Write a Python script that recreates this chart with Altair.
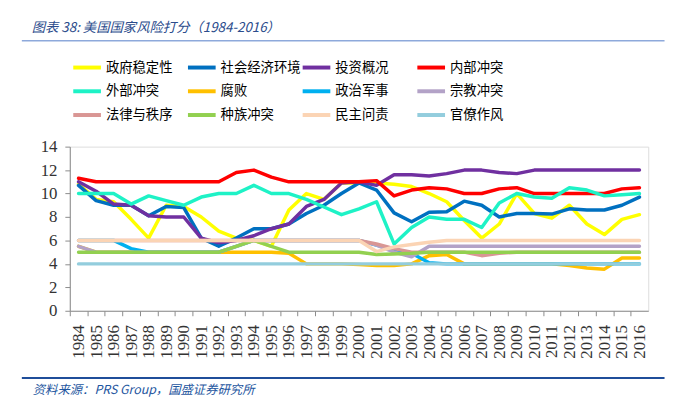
import altair as alt
import pandas as pd

years = [str(y) for y in range(1984, 2017)]

series_names = ["政府稳定性", "社会经济环境", "投资概况", "内部冲突",
                "外部冲突", "腐败", "政治军事", "宗教冲突",
                "法律与秩序", "种族冲突", "民主问责", "官僚作风"]
series_colors = ["#FFFF00", "#0070C0", "#7030A0", "#FF0000",
                 "#1EF2C6", "#FFC000", "#00B0F0", "#B3A2C7",
                 "#D99694", "#92D050", "#FBD4B4", "#93CDDD"]

gov_stability = [10.8, 9.5, 9.3, 7.8, 6.2, 9.0, 8.9, 8.0, 6.8, 6.2, 6.0, 5.5, 8.6,
                 10.0, 9.5, 10.9, 10.9, 10.9, 10.8, 10.6, 10.0, 9.3, 7.7, 6.2, 7.4,
                 10.0, 8.3, 7.9, 9.0, 7.4, 6.5, 7.8, 8.2]
socio_econ = [10.7, 9.4, 9.0, 9.0, 8.1, 8.9, 8.8, 6.2, 5.5, 6.2, 7.0, 7.0, 7.4,
              8.3, 9.0, 10.0, 10.9, 10.3, 8.35, 7.6, 8.4, 8.45, 9.35, 9.0, 8.0,
              8.3, 8.3, 8.25, 8.7, 8.6, 8.6, 9.0, 9.7]
investment = [11.0, 10.2, 9.1, 9.0, 8.1, 8.0, 8.0, 6.2, 5.8, 6.0, 6.4, 7.0, 7.4,
              8.9, 9.5, 10.9, 11.0, 10.7, 11.6, 11.6, 11.5, 11.7, 12.0, 12.0, 11.8,
              11.7, 12.0, 12.0, 12.0, 12.0, 12.0, 12.0, 12.0]
internal_conflict = [11.3, 11.0, 11.0, 11.0, 11.0, 11.0, 11.0, 11.0, 11.0, 11.8, 12.0, 11.4, 11.0,
                     11.0, 11.0, 11.0, 11.0, 11.1, 9.8, 10.3, 10.5, 10.4, 10.0, 10.0, 10.4,
                     10.5, 10.0, 10.0, 10.0, 10.0, 10.0, 10.4, 10.5]
external_conflict = [10.0, 10.0, 10.0, 9.1, 9.8, 9.4, 9.0, 9.7, 10.0, 10.0, 10.7, 10.0, 10.0,
                     9.5, 8.85, 8.2, 8.7, 9.3, 5.7, 7.1, 8.0, 7.8, 7.8, 7.1, 9.2,
                     10.0, 9.7, 9.6, 10.5, 10.3, 9.8, 9.9, 10.0]
corruption = [5.5, 5.0, 5.0, 5.0, 5.0, 5.0, 5.0, 5.0, 5.0, 5.0, 5.0, 5.0, 4.9,
              4.0, 4.0, 4.0, 3.95, 3.85, 3.85, 4.0, 4.7, 4.8, 4.0, 4.0, 4.0,
              4.0, 4.0, 4.0, 3.85, 3.65, 3.55, 4.5, 4.5]
military = [6.0, 6.0, 6.0, 5.3, 5.0, 5.0, 5.0, 5.0, 5.0, 5.5, 6.0, 6.0, 6.0,
            6.0, 6.0, 6.0, 6.0, 5.6, 5.2, 4.9, 4.1, 4.0, 4.0, 4.0, 4.0,
            4.0, 4.0, 4.0, 4.0, 4.0, 4.0, 4.0, 4.0]
religion = [5.5, 5.0, 5.0, 5.0, 5.0, 5.0, 5.0, 5.0, 5.0, 5.5, 6.0, 6.0, 6.0,
            6.0, 6.0, 6.0, 6.0, 5.6, 5.0, 4.6, 5.5, 5.5, 5.5, 5.5, 5.5,
            5.5, 5.5, 5.5, 5.5, 5.5, 5.5, 5.5, 5.5]
law_order = [6.0, 6.0, 6.0, 6.0, 6.0, 6.0, 6.0, 6.0, 6.0, 6.0, 6.0, 6.0, 6.0,
             6.0, 6.0, 6.0, 6.0, 5.7, 5.3, 5.0, 5.0, 5.0, 5.0, 4.7, 4.9,
             5.0, 5.0, 5.0, 5.0, 5.0, 5.0, 5.0, 5.0]
ethnic = [5.0, 5.0, 5.0, 5.0, 5.0, 5.0, 5.0, 5.0, 5.0, 5.5, 6.0, 5.5, 5.0,
          5.0, 5.0, 5.0, 5.0, 4.8, 4.85, 4.9, 5.0, 5.0, 5.0, 5.0, 5.0,
          5.0, 5.0, 5.0, 5.0, 5.0, 5.0, 5.0, 5.0]
democratic = [6.0, 6.0, 6.0, 6.0, 6.0, 6.0, 6.0, 6.0, 6.0, 6.0, 6.0, 6.0, 6.0,
              6.0, 6.0, 6.0, 6.0, 5.05, 5.45, 5.65, 5.85, 6.0, 6.0, 6.0, 6.0,
              6.0, 6.0, 6.0, 6.0, 6.0, 6.0, 6.0, 6.0]
bureaucracy = [4.0] * 33

all_series = [gov_stability, socio_econ, investment, internal_conflict,
              external_conflict, corruption, military, religion,
              law_order, ethnic, democratic, bureaucracy]

rows = []
for name, vals in zip(series_names, all_series):
    for yr, v in zip(years, vals):
        rows.append({"year": yr, "value": v, "series": name})
df = pd.DataFrame(rows)

W, H = 585, 166
step = W / len(years)

lines = alt.Chart(df).mark_line(strokeWidth=3.5, strokeJoin="round", strokeCap="round").encode(
    x=alt.X("year:O", sort=years,
            scale=alt.Scale(type="point", padding=0.5),
            axis=alt.Axis(title=None, labelAngle=-90, tickOffset=-step / 2, labelOffset=step / 2,
                          tickSize=5, labelPadding=9, domainColor="#8C8C8C", tickColor="#8C8C8C",
                          labelFont="Liberation Serif", labelFontSize=17, labelColor="#333333")),
    y=alt.Y("value:Q", scale=alt.Scale(domain=[0, 14], nice=False),
            axis=alt.Axis(title=None, values=list(range(0, 15, 2)), grid=False, tickSize=5,
                          labelPadding=8, domainColor="#8C8C8C", tickColor="#8C8C8C",
                          labelFont="Liberation Serif", labelFontSize=17, labelColor="#333333")),
    color=alt.Color("series:N", sort=series_names,
                    scale=alt.Scale(domain=series_names, range=series_colors),
                    legend=alt.Legend(title=None, orient="none", legendX=1.5, legendY=-96,
                                      direction="horizontal", columns=4, gridAlign="all",
                                      symbolType="stroke", symbolSize=784, symbolStrokeWidth=4,
                                      labelFont="Noto Sans CJK SC", labelFontSize=13.5,
                                      labelColor="#000000", labelOffset=3, columnPadding=-6.5,
                                      rowPadding=-0.5, padding=0, labelLimit=200)),
)

title_df = pd.DataFrame({"t": ["图表 38:  美国国家风险打分（1984-2016）"]})
title = alt.Chart(title_df).mark_text(align="left", baseline="middle", font="Noto Sans CJK SC",
                                      fontSize=13.5, fontStyle="italic", color="#2B4C8C").encode(
    text="t:N", x=alt.value(-38.5), y=alt.value(-120))

source_df = pd.DataFrame({"t": ["资料来源：PRS Group，国盛证券研究所"]})
source = alt.Chart(source_df).mark_text(align="left", baseline="middle", font="Noto Sans CJK SC",
                                        fontSize=12.5, fontStyle="italic", color="#1E56A0").encode(
    text="t:N", x=alt.value(-37.5), y=alt.value(246))

top_rule = alt.Chart(title_df).mark_rule(color="#8EA9DB", strokeWidth=1.5).encode(
    x=alt.value(-48.5), x2=alt.value(601.5), y=alt.value(-107))
bottom_rule = alt.Chart(source_df).mark_rule(color="#1F4E9A", strokeWidth=2).encode(
    x=alt.value(-48.5), x2=alt.value(601.5), y=alt.value(234))

chart = alt.layer(lines, title, source, top_rule, bottom_rule).properties(
    width=W, height=H,
    autosize=alt.AutoSizeParams(type="none"),
    padding={"left": 62.5, "top": 138, "right": 20, "bottom": 87},
).configure_view(stroke=None).configure(background="white")

chart.save("out.html", embed_options={"renderer": "svg", "actions": False})
